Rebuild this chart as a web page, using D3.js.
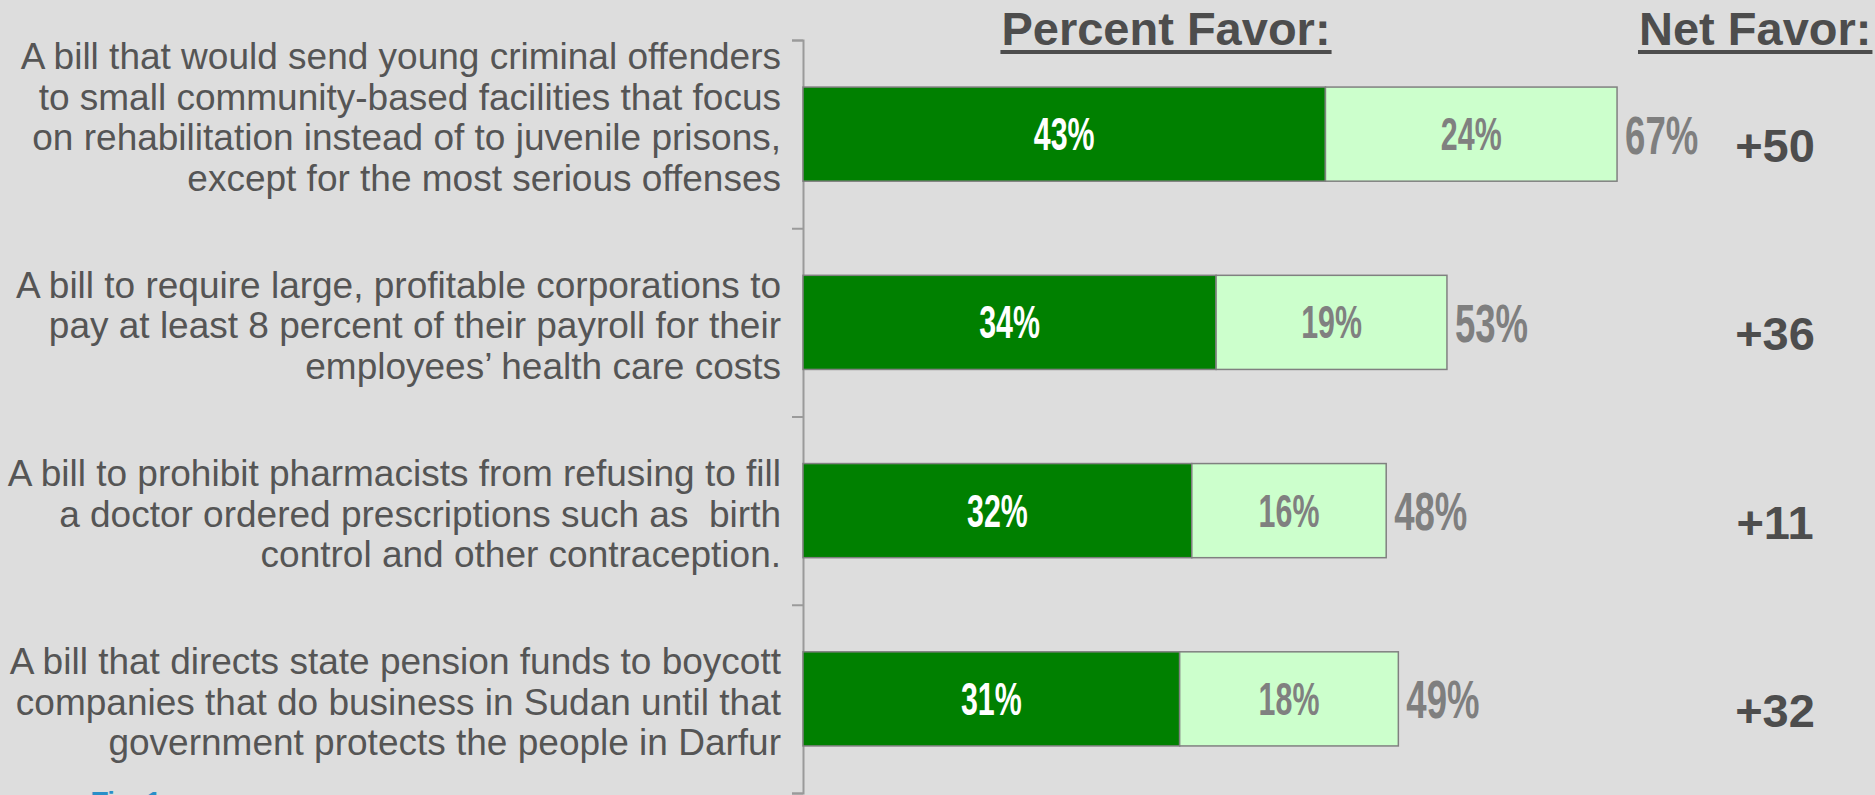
<!DOCTYPE html>
<html>
<head>
<meta charset="utf-8">
<script src="https://cdn.jsdelivr.net/npm/d3@7"></script>
<style>
  html, body { margin: 0; padding: 0; background: #dddddd; }
  svg { display: block; }
  text { font-family: "Liberation Sans", Arial, Helvetica, sans-serif; }
</style>
</head>
<body>
<svg id="chart" width="1875" height="795"></svg>
<script>
// Survey items (one array of lines per bill)
const categories = [
  ["A bill that would send young criminal offenders",
   "to small community-based facilities that focus",
   "on rehabilitation instead of to juvenile prisons,",
   "except for the most serious offenses"],
  ["A bill to require large, profitable corporations to",
   "pay at least 8 percent of their payroll for their",
   "employees\u2019 health care costs"],
  ["A bill to prohibit pharmacists from refusing to fill",
   "a doctor ordered prescriptions such as  birth",
   "control and other contraception."],
  ["A bill that directs state pension funds to boycott",
   "companies that do business in Sudan until that",
   "government protects the people in Darfur"]
];
const strongFavor   = [43, 34, 32, 31];
const somewhatFavor = [24, 19, 16, 18];
const totalFavor    = [67, 53, 48, 49];
const netFavor      = [50, 36, 11, 32];
const headers = ["Percent Favor:", "Net Favor:"];
const footnote = "Tier 1";

const svg = d3.select("#chart");
const W = 1875, H = 795;

svg.append("rect").attr("width", W).attr("height", H).attr("fill", "#dddddd");

const ids = categories.map((_, i) => i);
const x = d3.scaleLinear().domain([0, 100]).range([803, 2018]);
const y = d3.scaleBand().domain(ids).range([40, 793]).paddingInner(0.5).paddingOuter(0.25);

// band boundaries for the tick marks
const step = y.step();
const y0 = 40;

// axis line with ticks between the items
const axis = d3.axisLeft(d3.scaleLinear().domain([0, ids.length]).range([y0, y0 + step * ids.length]))
  .ticks(ids.length).tickSize(11).tickFormat("");
const gAxis = svg.append("g").attr("transform", `translate(${x(0)},0)`).call(axis);
gAxis.select(".domain").attr("stroke", "#9a9a9a").attr("stroke-width", 2);
gAxis.selectAll(".tick line").attr("stroke", "#9a9a9a").attr("stroke-width", 2);

const rows = svg.append("g").selectAll("g").data(ids).join("g");

// strongly favor segment
rows.append("rect")
  .attr("x", x(0))
  .attr("y", i => y(i))
  .attr("width", i => x(strongFavor[i]) - x(0))
  .attr("height", y.bandwidth())
  .attr("fill", "#008000")
  .attr("stroke", "#808080").attr("stroke-width", 1.5);

// somewhat favor segment
rows.append("rect")
  .attr("x", i => x(strongFavor[i]))
  .attr("y", i => y(i))
  .attr("width", i => x(totalFavor[i]) - x(strongFavor[i]))
  .attr("height", y.bandwidth())
  .attr("fill", "#ccffcc")
  .attr("stroke", "#808080").attr("stroke-width", 1.5);

const mid = i => y(i) + y.bandwidth() / 2;

// condensed value labels
function narrowLabel(sel, cx, cy, txt, size, sx, color, anchor) {
  sel.append("g")
    .attr("transform", i => `translate(${cx(i)},${cy(i)})`)
    .append("text")
    .attr("transform", `scale(${sx},1)`)
    .attr("text-anchor", anchor)
    .attr("font-weight", "bold")
    .attr("font-size", size)
    .attr("fill", color)
    .text(txt);
}

narrowLabel(rows, i => (x(0) + x(strongFavor[i])) / 2, i => mid(i) + 16,
  i => strongFavor[i] + "%", 46, 0.66, "#ffffff", "middle");
narrowLabel(rows, i => (x(strongFavor[i]) + x(totalFavor[i])) / 2, i => mid(i) + 16,
  i => somewhatFavor[i] + "%", 46, 0.66, "#808080", "middle");
narrowLabel(rows, i => x(totalFavor[i]) + 8, i => mid(i) + 19.5,
  i => totalFavor[i] + "%", 53, 0.69, "#7f7f7f", "start");

// net favor column
rows.append("text")
  .attr("x", 1775)
  .attr("y", i => mid(i) + 28)
  .attr("text-anchor", "middle")
  .attr("font-weight", "bold")
  .attr("font-size", 47)
  .attr("fill", "#4d4d4d")
  .text(i => "+" + netFavor[i]);

// item labels, bottom-aligned to the bar
const lineH = 40.5;
rows.append("text")
  .attr("text-anchor", "end")
  .attr("font-size", 37)
  .attr("fill", "#555555")
  .style("white-space", "pre")
  .selectAll("tspan")
  .data(i => categories[i].map((t, k) => ({ t, k, n: categories[i].length, i })))
  .join("tspan")
  .attr("x", 781)
  .attr("y", d => mid(d.i) + 56.5 - (d.n - 1 - d.k) * lineH)
  .text(d => d.t);

// column headers
const hdr = svg.append("g");
[[1166, headers[0], "middle"], [1639, headers[1], "start"]].forEach(([hx, t, a]) => {
  const tx = hdr.append("text")
    .attr("x", hx).attr("y", 45)
    .attr("text-anchor", a)
    .attr("font-weight", "bold")
    .attr("font-size", 47)
    .attr("fill", "#4d4d4d")
    .text(t);
  const bb = tx.node().getBBox();
  hdr.append("rect")
    .attr("x", bb.x - 1).attr("y", 50)
    .attr("width", bb.width + 2).attr("height", 4)
    .attr("fill", "#4d4d4d");
});

// footnote at the lower edge
svg.append("text")
  .attr("x", 92).attr("y", 810)
  .attr("font-weight", "bold")
  .attr("font-size", 26)
  .attr("fill", "#2a8fc8")
  .text(footnote);
</script>
</body>
</html>
